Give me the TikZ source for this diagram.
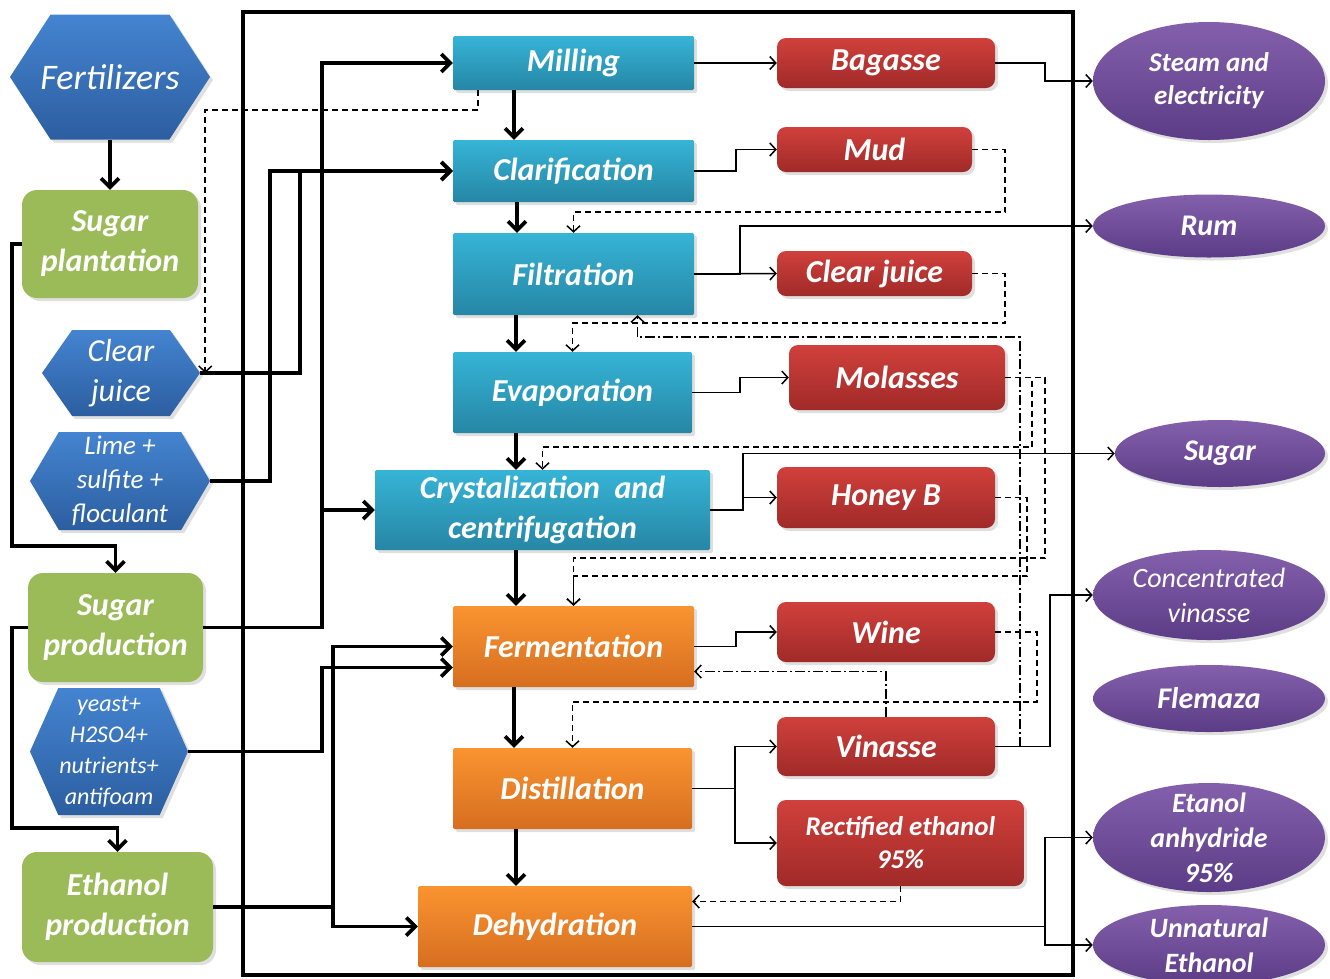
\documentclass[tikz,border=0pt]{standalone}
\usepackage{fontspec}
\setmainfont{Carlito}
\usetikzlibrary{arrows.meta,calc,shapes.geometric,shapes.symbols,shadows}
\definecolor{hexT}{RGB}{68,132,208}
\definecolor{hexB}{RGB}{44,94,160}
\definecolor{grn}{RGB}{155,187,89}
\definecolor{cyT}{RGB}{54,180,214}
\definecolor{cyB}{RGB}{38,134,165}
\definecolor{orT}{RGB}{250,148,48}
\definecolor{orB}{RGB}{214,110,32}
\definecolor{rdT}{RGB}{208,64,60}
\definecolor{rdB}{RGB}{160,42,40}
\definecolor{puT}{RGB}{132,96,172}
\definecolor{puB}{RGB}{92,60,134}
\begin{document}
\begin{tikzpicture}[x=1pt,y=-1pt,
  every node/.style={text=white, align=center, inner sep=0pt},
  shad/.style={drop shadow={opacity=0.25,shadow xshift=3pt,shadow yshift=-3pt}},
  bi/.style={font=\fontsize{32}{40}\selectfont\bfseries\itshape},
  hexb/.style={signal, signal to=west and east, draw=none, top color=hexT, bottom color=hexB, shad},
  greenb/.style={rectangle, rounded corners=15pt, fill=grn, shad, bi},
  cyanb/.style={rectangle, rounded corners=1.5pt, top color=cyT, bottom color=cyB, shad, bi},
  orangeb/.style={rectangle, rounded corners=1.5pt, top color=orT, bottom color=orB, shad, bi},
  redb/.style={rectangle, rounded corners=9pt, top color=rdT, bottom color=rdB, shad, bi},
  pure/.style={ellipse, inner sep=-20pt, top color=puT, bottom color=puB, shad, font=\fontsize{28}{35}\selectfont\bfseries\itshape},
  thk/.style={line width=3.6pt, -{Straight Barb[length=9pt,width=18pt]}},
  thn/.style={line width=1.5pt, -{Straight Barb[length=6pt,width=13pt]}},
  dsh/.style={thn, dash pattern=on 6pt off 4pt},
  ddot/.style={thn, dash pattern=on 10pt off 3pt on 2pt off 3pt},
]
\useasboundingbox (0,0) rectangle (1330,978);
\clip (0,0) rectangle (1330,978);
\fill[white] (0,0) rectangle (1330,978);
\draw[line width=4pt] (243,12) rectangle (1073,975);

% left column
\node[hexb, signal pointer angle=114, inner xsep=-12pt, minimum width=200pt, minimum height=125pt, font=\fontsize{36}{44}\selectfont\itshape] (fert) at (110,77) {Fertilizers};
\node[greenb, minimum width=176pt, minimum height=108pt] (plant) at (110,244) {Sugar\\plantation};
\node[hexb, signal pointer angle=110, minimum width=158pt, minimum height=86pt, font=\fontsize{32}{40}\selectfont\itshape] (cjL) at (121,373) {Clear\\juice};
\node[hexb, signal pointer angle=119, minimum width=180pt, minimum height=98pt, font=\fontsize{27}{34}\selectfont\itshape] (lime) at (120,481) {Lime +\\sulfite +\\floculant};
\node[greenb, minimum width=175pt, minimum height=109pt] (prod) at (115.5,627.5) {Sugar\\production};
\node[hexb, signal pointer angle=132, minimum width=158pt, minimum height=127pt, font=\fontsize{24}{31}\selectfont\itshape] (yeast) at (109,751.5) {yeast+\\H2SO4+\\nutrients+\\antifoam};
\node[greenb, minimum width=191pt, minimum height=110pt] (eth) at (117.5,907) {Ethanol\\production};

% central column
\node[cyanb, minimum width=241pt, minimum height=54pt] (mill) at (573.5,63) {Milling};
\node[cyanb, minimum width=241pt, minimum height=62pt] (clar) at (573.5,171) {Clarification};
\node[cyanb, minimum width=241pt, minimum height=82pt] (filt) at (573.5,274) {Filtration};
\node[cyanb, minimum width=239pt, minimum height=81pt] (evap) at (572.5,392.5) {Evaporation};
\node[cyanb, minimum width=335pt, minimum height=80pt] (cryst) at (542.5,510) {Crystalization~ and\\centrifugation};
\node[orangeb, minimum width=241pt, minimum height=81pt] (ferm) at (573.5,646.5) {Fermentation};
\node[orangeb, minimum width=239pt, minimum height=81pt] (dist) at (572.5,788.5) {Distillation};
\node[orangeb, minimum width=274pt, minimum height=81pt] (dehy) at (555,926.5) {Dehydration};

% red column
\node[redb, minimum width=218pt, minimum height=50pt] (bag) at (886,63) {Bagasse};
\node[redb, minimum width=195pt, minimum height=45pt] (mud) at (874.5,149.5) {Mud};
\node[redb, minimum width=195pt, minimum height=45pt] (cjR) at (874.5,273.5) {Clear juice};
\node[redb, minimum width=216pt, minimum height=65pt] (mol) at (897,377.5) {Molasses};
\node[redb, minimum width=218pt, minimum height=61pt] (honey) at (886,497.5) {Honey B};
\node[redb, minimum width=218pt, minimum height=60pt] (wine) at (886,632) {Wine};
\node[redb, minimum width=218pt, minimum height=59pt] (vin) at (886,746.5) {Vinasse};
\node[redb, minimum width=247pt, minimum height=86pt, font=\fontsize{27}{33}\selectfont\bfseries\itshape] (rect) at (900.5,843) {Rectified ethanol\\95\%};

% products
\node[pure, minimum width=232pt, minimum height=118pt, font=\fontsize{27}{33}\selectfont\bfseries\itshape] (steam) at (1209,81) {Steam and\\electricity};
\node[pure, minimum width=232pt, minimum height=63pt, font=\fontsize{30}{36}\selectfont\bfseries\itshape] (rum) at (1209,226) {Rum};
\node[pure, minimum width=210pt, minimum height=67pt, font=\fontsize{30}{36}\selectfont\bfseries\itshape] (sugar) at (1220,453.5) {Sugar};
\node[pure, minimum width=232pt, minimum height=90pt, font=\fontsize{28}{35}\selectfont\itshape] (conc) at (1209,595) {Concentrated\\vinasse};
\node[pure, minimum width=232pt, minimum height=67pt, font=\fontsize{30}{36}\selectfont\bfseries\itshape] (flem) at (1209,698.5) {Flemaza};
\node[pure, minimum width=232pt, minimum height=109pt] (etan) at (1209,837.5) {Etanol\\anhydride\\95\%};
\node[pure, minimum width=232pt, minimum height=80pt] (unnat) at (1209,945) {Unnatural\\Ethanol};

% thick connectors, left
\draw[thk] (fert.south) -- (plant.north);
\draw[thk] (plant.west) -- ++(-10,0) |- ($(prod.north)+(0,-27)$) -- (prod.north);
\draw[thk] (prod.west) -- ++(-16,0) |- ($(eth.north)+(0,-24)$) -- (eth.north);
\draw[thk] (cjL.east) -- ++(100,0) |- (clar.west);
\draw[thk] (lime.east) -- ++(60,0) |- (clar.west);
\draw[thk] (prod.east) -- ++(119,0) |- (mill.west);
\draw[thk] (prod.east) -- ++(119,0) |- (cryst.west);
\draw[thk] (yeast.east) -- ++(134,0) |- ($(ferm.west)+(0,21)$);
\draw[thk] (eth.east) -- ++(120,0) |- (ferm.west);
\draw[thk] (eth.east) -- ++(120,0) |- (dehy.west);

% thick connectors, central
\draw[thk] (514,0 |- mill.south) -- (514,0 |- clar.north);
\draw[thk] (517,0 |- clar.south) -- (517,0 |- filt.north);
\draw[thk] (516,0 |- filt.south) -- (516,0 |- evap.north);
\draw[thk] (516,0 |- evap.south) -- (516,0 |- cryst.north);
\draw[thk] (516,0 |- cryst.south) -- (516,0 |- ferm.north);
\draw[thk] (514,0 |- ferm.south) -- (514,0 |- dist.north);
\draw[thk] (516,0 |- dist.south) -- (516,0 |- dehy.north);

% thin connectors
\draw[thn] (mill.east) -- (bag.west);
\draw[thn] (clar.east) -- ++(42,0) |- (mud.west);
\draw[thn] (filt.east) -- (cjR.west);
\draw[thn] (filt.east) -- ++(46,0) |- (rum.west);
\draw[thn] (evap.east) -- ++(48,0) |- (mol.west);
\draw[thn] (cryst.east) -- ++(33,0) |- (honey.west);
\draw[thn] (cryst.east) -- ++(33,0) |- (sugar.west);
\draw[thn] (ferm.east) -- ++(42,0) |- (wine.west);
\draw[thn] (dist.east) -- ++(43,0) |- (vin.west);
\draw[thn] (dist.east) -- ++(43,0) |- (rect.west);
\draw[thn] (dehy.east) -- ++(353,0) |- (etan.west);
\draw[thn] (dehy.east) -- ++(353,0) |- (unnat.west);
\draw[thn] (bag.east) -- ++(50,0) |- (steam.west);
\draw[thn] (vin.east) -- ++(55,0) |- (conc.west);

% dashed recycles
\draw[dsh] (478,0 |- mill.south) -- (478,110) -| ([xshift=5pt]cjL.east);
\draw[dsh] (mud.east) -- ++(33,0) |- ($(filt.north)+(0,-21)$) -- (filt.north);
\draw[dsh] (cjR.east) -- ++(33,0) |- ($(evap.north)+(0,-29)$) -- (evap.north);
\draw[dsh] (mol.east) -- ++(27,0) |- ($(cryst.north)+(0,-23)$) -- (cryst.north);
\draw[dsh] (mol.east) -- ++(40,0) |- ($(ferm.north)+(0,-48)$) -- (ferm.north);
\draw[dsh] (honey.east) -- ++(32,0) |- ($(ferm.north)+(0,-30)$) -- (ferm.north);
\draw[dsh] (wine.east) -- ++(42,0) |- ($(dist.north)+(0,-46)$) -- (dist.north);
\draw[dsh] (rect.south) |- ($(dehy.east)+(0,-25)$);

% dash-dot recycles
\draw[ddot] (1020,0 |- vin.east) |- ($(filt.south)+(64,22)$) -- ($(filt.south)+(64,0)$);
\draw[ddot] (vin.north) |- ($(ferm.east)+(0,25)$);
\end{tikzpicture}
\end{document}
